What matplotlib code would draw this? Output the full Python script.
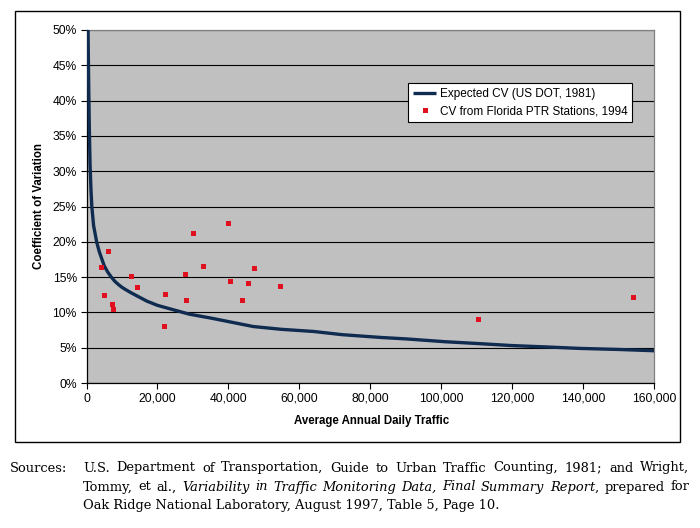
import matplotlib
matplotlib.use("Agg")
import matplotlib.pyplot as plt
from matplotlib.patches import Rectangle
from matplotlib.ticker import FuncFormatter

# Expected CV curve (US DOT, 1981): AADT vs CV in %
curve_aadt = [350, 500, 650, 800, 1000, 1250, 1500, 2000, 2900, 3600, 5000,
              6000, 7000, 8000, 9000, 10000, 11300, 12500, 14000, 17000,
              20000, 25000, 29000, 35000, 40000, 45000, 47000, 55000, 64000,
              72000, 83000, 90000, 101000, 110000, 120000, 130000, 139000,
              150000, 160000]
curve_cv = [55, 47, 41, 36, 31, 27.5, 25, 22.3, 19.9, 18.6, 16.6,
            15.7, 15.0, 14.4, 13.95, 13.55, 13.15, 12.8, 12.4, 11.6,
            11.0, 10.3, 9.75, 9.2, 8.7, 8.2, 8.0, 7.6, 7.3,
            6.85, 6.45, 6.25, 5.85, 5.6, 5.3, 5.1, 4.9,
            4.75, 4.57]

# CV from Florida PTR stations, 1994
station_aadt = [4100, 6100, 4850, 7200, 7400, 12500, 14200, 22000, 21800,
                27700, 28000, 30000, 32900, 39800, 40500, 43800, 45400,
                47100, 54500, 110500, 154000]
station_cv = [16.5, 18.7, 12.4, 11.2, 10.5, 15.1, 13.6, 12.6, 8.1,
              15.5, 11.8, 21.3, 16.6, 22.6, 14.5, 11.8, 14.1,
              16.3, 13.8, 9.0, 12.2]

x_ticks = [0, 20000, 40000, 60000, 80000, 100000, 120000, 140000, 160000]
y_ticks = [0, 5, 10, 15, 20, 25, 30, 35, 40, 45, 50]

W, H = 700, 528
sans = "Liberation Sans"
serif = "DejaVu Serif"

fig = plt.figure(figsize=(7, 5.28), dpi=100)
fig.patch.set_facecolor("white")

# outer chart border
fig.patches.append(Rectangle((15.5 / W, 1 - 442 / H), (680 - 15.5) / W, (442 - 11) / H,
                             transform=fig.transFigure, fill=False,
                             edgecolor="black", linewidth=1.0))

ax = fig.add_axes([86.5 / W, 1 - 383 / H, (654 - 86.5) / W, (383 - 30) / H])
ax.set_facecolor("#c0c0c0")

ax.plot(curve_aadt, curve_cv, color="#0f2b4f", linewidth=2.4,
        solid_capstyle="butt", solid_joinstyle="round",
        label="Expected CV (US DOT, 1981)", zorder=3)
ax.plot(station_aadt, station_cv, linestyle="none", marker="s", markersize=3.6,
        color="#e0101e", markeredgewidth=0,
        label="CV from Florida PTR Stations, 1994", zorder=4)

ax.set_xlim(0, 160000)
ax.set_ylim(0, 50)
ax.set_xticks(x_ticks)
ax.set_yticks(y_ticks)
ax.xaxis.set_major_formatter(FuncFormatter(lambda v, p: f"{int(v):,}"))
ax.yaxis.set_major_formatter(FuncFormatter(lambda v, p: f"{int(v)}%"))
ax.tick_params(direction="out", length=4, width=0.8, colors="black",
               labelsize=8.7, pad=3)
for lab in ax.get_xticklabels() + ax.get_yticklabels():
    lab.set_fontfamily(sans)

ax.yaxis.grid(True, color="black", linewidth=0.8)
ax.set_axisbelow(True)

ax.spines["left"].set_color("black")
ax.spines["bottom"].set_color("black")
ax.spines["top"].set_color("#808080")
ax.spines["right"].set_color("#808080")
for s in ax.spines.values():
    s.set_linewidth(0.9)

fig.text(372 / W, 1 - 421 / H, "Average Annual Daily Traffic", ha="center",
         va="center", fontsize=8.3, fontweight="bold", fontfamily=sans)
fig.text(39 / W, 1 - 206 / H, "Coefficient of Variation", ha="center",
         va="center", rotation=90, fontsize=8.3, fontweight="bold",
         fontfamily=sans)

leg = ax.legend(loc="upper left", bbox_to_anchor=(408 / W, 1 - 83 / H),
                bbox_transform=fig.transFigure, frameon=True, fancybox=False,
                framealpha=1, edgecolor="black", facecolor="white",
                prop={"family": sans, "size": 8.5}, handlelength=2.0,
                handletextpad=0.3, borderpad=0.4, labelspacing=0.5,
                borderaxespad=0)
leg.get_frame().set_linewidth(0.8)

# sources note below the chart, justified like the original page
fig.canvas.draw()
renderer = fig.canvas.get_renderer()
fs = 9.4


def put(x, y, s, italic=False):
    t = fig.text(x / W, 1 - y / H, s, fontsize=fs, fontfamily=serif,
                 fontstyle="italic" if italic else "normal", va="baseline")
    return t, t.get_window_extent(renderer).width


def justify(words, x0, x1, y):
    placed = []
    total = 0
    for word in words:
        runs = []
        for s, it in word:
            t, w = put(0, y, s, it)
            runs.append((t, w))
            total += w
        placed.append(runs)
    gap = (x1 - x0 - total) / (len(words) - 1)
    x = x0
    for runs in placed:
        for t, w in runs:
            t.set_x(x / W)
            x += w
        x += gap


line1 = "U.S. Department of Transportation, Guide to Urban Traffic Counting, 1981; and Wright,"
line2 = [[("Tommy,", False)], [("et", False)], [("al.,", False)],
         [("Variability", True)], [("in", True)], [("Traffic", True)],
         [("Monitoring", True)], [("Data,", True)], [("Final", True)],
         [("Summary", True)], [("Report", True), (",", False)],
         [("prepared", False)], [("for", False)]]
line3 = "Oak Ridge National Laboratory, August 1997, Table 5, Page 10."

put(10, 471.5, "Sources:")
justify([[(w, False)] for w in line1.split()], 83, 689, 471.5)
justify(line2, 83, 689, 490.5)
put(83, 509, line3)

fig.savefig("out.png", dpi=100)
